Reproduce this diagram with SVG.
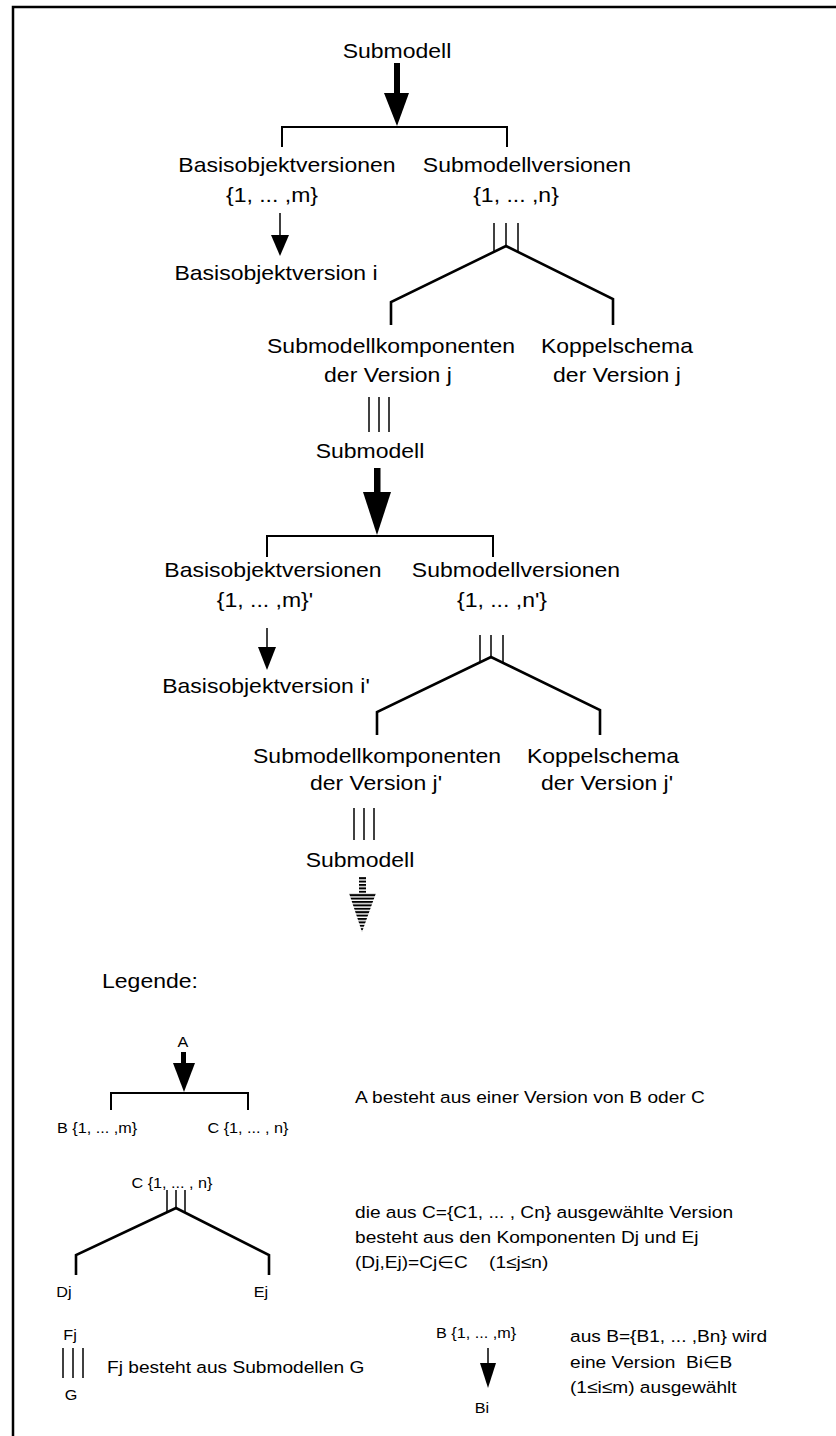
<svg xmlns="http://www.w3.org/2000/svg" width="836" height="1436" viewBox="0 0 836 1436">
  <defs>
    <style>
      text { font-family: "Liberation Sans", Arial, "DejaVu Sans", sans-serif; fill: #000; transform-box: fill-box; }
      .m { font-size: 21px; text-anchor: middle; transform-origin: center; transform: scaleX(1.095); }
      .d { font-size: 16.5px; text-anchor: start; transform-origin: left center; transform: scaleX(1.16); }
      .s { font-size: 15px; text-anchor: middle; transform-origin: center; transform: scaleX(1.08); }
      .ln { stroke: #000; stroke-width: 2; fill: none; }
      .thin { stroke: #000; stroke-width: 1.5; fill: none; }
      .br { stroke: #000; stroke-width: 2.6; fill: none; stroke-linejoin: miter; }
      .frame { stroke: #000; stroke-width: 2.5; fill: none; }
      .head { fill: #000; stroke: none; }
    </style>
    <pattern id="hatch" width="6" height="3.4" patternUnits="userSpaceOnUse">
      <rect x="0" y="0" width="6" height="2" fill="#000"/>
    </pattern>
  </defs>

  <rect width="836" height="1436" fill="#fff"/>
  <!-- page frame: top and left edges -->
  <path class="frame" d="M13,1436 V7 H836"/>

  <!-- ===== level 1 ===== -->
  <g id="submodell-1"><text class="m" x="397" y="58">Submodell</text></g>
  <g id="basisobjektversionen-1">
    <text class="m" x="287" y="172">Basisobjektversionen</text>
    <text class="m" x="272" y="202">{1, ... ,m}</text>
  </g>
  <g id="submodellversionen-1">
    <text class="m" x="527" y="172">Submodellversionen</text>
    <text class="m" x="516" y="202">{1, ... ,n}</text>
  </g>
  <g id="basisobjektversion-i"><text class="m" x="276" y="280">Basisobjektversion i</text></g>
  <g id="komponenten-j">
    <text class="m" x="391" y="353">Submodellkomponenten</text>
    <text class="m" x="388" y="382">der Version j</text>
  </g>
  <g id="koppelschema-j">
    <text class="m" x="617" y="353">Koppelschema</text>
    <text class="m" x="617" y="382">der Version j</text>
  </g>

  <!-- ===== level 2 ===== -->
  <g id="submodell-2"><text class="m" x="370" y="458">Submodell</text></g>
  <g id="basisobjektversionen-2">
    <text class="m" x="273" y="577">Basisobjektversionen</text>
    <text class="m" x="265" y="607">{1, ... ,m}'</text>
  </g>
  <g id="submodellversionen-2">
    <text class="m" x="516" y="577">Submodellversionen</text>
    <text class="m" x="502" y="607">{1, ... ,n'}</text>
  </g>
  <g id="basisobjektversion-i2"><text class="m" x="266" y="693">Basisobjektversion i'</text></g>
  <g id="komponenten-j2">
    <text class="m" x="377" y="763">Submodellkomponenten</text>
    <text class="m" x="376" y="790">der Version j'</text>
  </g>
  <g id="koppelschema-j2">
    <text class="m" x="603" y="763">Koppelschema</text>
    <text class="m" x="607" y="790">der Version j'</text>
  </g>
  <g id="submodell-3"><text class="m" x="360" y="867">Submodell</text></g>

  <!-- ===== legend ===== -->
  <g id="legende"><text class="m" x="150" y="988">Legende:</text></g>

  <g id="leg-a">
    <text class="s" x="183" y="1047">A</text>
    <text class="s" x="97" y="1133">B {1, ... ,m}</text>
    <text class="s" x="248" y="1133">C {1, ... , n}</text>
    <text class="d" x="355" y="1103">A besteht aus einer Version von B oder C</text>
  </g>

  <g id="leg-c">
    <text class="s" x="172" y="1188">C {1, ... , n}</text>
    <text class="s" x="64" y="1297">Dj</text>
    <text class="s" x="261" y="1297">Ej</text>
    <text class="d" x="355" y="1218">die aus C={C1, ... , Cn} ausgewählte Version</text>
    <text class="d" x="355" y="1243">besteht aus den Komponenten Dj und Ej</text>
    <text class="d" x="355" y="1268">(Dj,Ej)=Cj∈C&#160;&#160;&#160;&#160;(1≤j≤n)</text>
  </g>

  <g id="leg-f">
    <text class="s" x="70" y="1340">Fj</text>
    <text class="s" x="71" y="1400">G</text>
    <text class="d" x="107" y="1373">Fj besteht aus Submodellen G</text>
  </g>

  <g id="leg-b">
    <text class="s" x="476" y="1338">B {1, ... ,m}</text>
    <text class="s" x="482" y="1413">Bi</text>
    <text class="d" x="570" y="1342">aus B={B1, ... ,Bn} wird</text>
    <text class="d" x="570" y="1368">eine Version&#160;&#160;Bi∈B</text>
    <text class="d" x="570" y="1393">(1≤i≤m) ausgewählt</text>
  </g>

  <!-- ===== connectors ===== -->
  <g id="connectors">
    <!-- level 1: alternative choice (thick arrow + bracket) -->
    <rect class="head" x="394" y="63" width="6" height="32"/>
    <polygon class="head" points="384,93 409,93 397,126"/>
    <path class="ln" d="M282,147 V127 H507 V147"/>

    <!-- level 1: version selection -->
    <line class="thin" x1="280" y1="213" x2="280" y2="238"/>
    <polygon class="head" points="271,235 289,235 280,256"/>

    <!-- level 1: composition (triple line + fork) -->
    <line class="thin" x1="494" y1="223" x2="494" y2="252"/>
    <line class="thin" x1="506" y1="223" x2="506" y2="247"/>
    <line class="thin" x1="518" y1="223" x2="518" y2="252"/>
    <path class="br" d="M391,325 V302 L506,246 L613,299 V325"/>

    <!-- level 1: consists of submodels -->
    <line class="thin" x1="369" y1="397" x2="369" y2="432"/>
    <line class="thin" x1="379" y1="397" x2="379" y2="432"/>
    <line class="thin" x1="389" y1="397" x2="389" y2="432"/>

    <!-- level 2: alternative choice -->
    <rect class="head" x="374" y="468" width="6.5" height="27"/>
    <polygon class="head" points="363,492 391,492 377,535"/>
    <path class="ln" d="M267,557 V536 H493 V557"/>

    <!-- level 2: version selection -->
    <line class="thin" x1="267" y1="628" x2="267" y2="650"/>
    <polygon class="head" points="258,647 276,647 267,670"/>

    <!-- level 2: composition -->
    <line class="thin" x1="480" y1="635" x2="480" y2="663"/>
    <line class="thin" x1="491" y1="635" x2="491" y2="658"/>
    <line class="thin" x1="503" y1="635" x2="503" y2="664"/>
    <path class="br" d="M377,735 V712 L491,657 L600,710 V735"/>

    <!-- level 2: consists of submodels -->
    <line class="thin" x1="354" y1="808" x2="354" y2="840"/>
    <line class="thin" x1="364" y1="808" x2="364" y2="840"/>
    <line class="thin" x1="374" y1="808" x2="374" y2="840"/>

    <!-- continuation (hatched arrow) -->
    <path fill="url(#hatch)" d="M359,877 H366 V893 H376 L362,932 L349,893 H359 Z"/>

    <!-- legend: alternative choice -->
    <rect class="head" x="181" y="1052" width="5" height="13"/>
    <polygon class="head" points="173,1063 195,1063 184,1092"/>
    <path class="ln" d="M111,1110 V1093 H248 V1110"/>

    <!-- legend: composition -->
    <line class="thin" x1="167" y1="1190" x2="167" y2="1213"/>
    <line class="thin" x1="176" y1="1190" x2="176" y2="1209"/>
    <line class="thin" x1="185" y1="1190" x2="185" y2="1213"/>
    <path class="br" d="M76,1275 V1255 L176,1208 L269,1255 V1275"/>

    <!-- legend: consists of submodels -->
    <line class="thin" x1="63" y1="1348" x2="63" y2="1378"/>
    <line class="thin" x1="73" y1="1348" x2="73" y2="1378"/>
    <line class="thin" x1="83" y1="1348" x2="83" y2="1378"/>

    <!-- legend: version selection -->
    <line class="thin" x1="488" y1="1348" x2="488" y2="1366"/>
    <polygon class="head" points="480,1363 496,1363 488,1388"/>
  </g>
</svg>
